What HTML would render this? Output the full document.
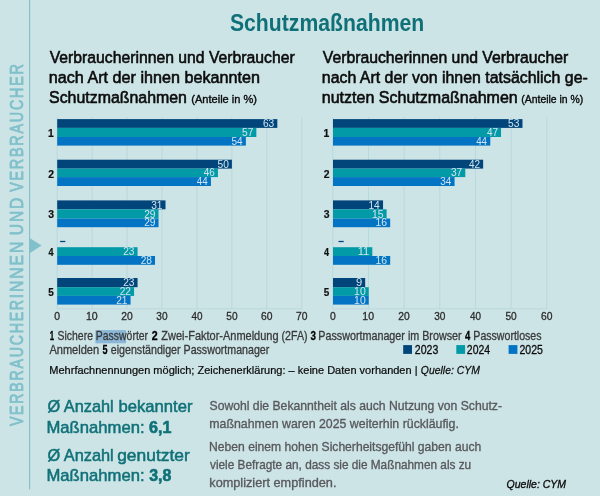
<!DOCTYPE html>
<html lang="de">
<head>
<meta charset="utf-8">
<title>Schutzmaßnahmen</title>
<style>
html,body{margin:0;padding:0}
body{width:600px;height:496px;overflow:hidden;background:#cde4e7}
svg{display:block;position:absolute;left:0;top:0;filter:blur(0.35px)}
text{font-family:'Liberation Sans', sans-serif;white-space:pre;stroke-linejoin:round}
</style>
</head>
<body>
<svg width="600" height="496" viewBox="0 0 600 496">
<rect x="0" y="0" width="600" height="496" fill="#cde4e7"/>
<rect x="29.05" y="0" width="1.1" height="489.4" fill="#80c0ca"/>
<polygon points="29.6,238 41.6,245.6 29.6,253.2" fill="#80c0ca"/>
<rect x="95.4" y="330.1" width="30.6" height="13.2" fill="#8ab7d6"/>
<rect x="56.65" y="117" width="1" height="191.90" fill="#b8d8dd"/>
<rect x="91.60" y="117" width="1" height="191.90" fill="#b8d8dd"/>
<rect x="126.55" y="117" width="1" height="191.90" fill="#b8d8dd"/>
<rect x="161.50" y="117" width="1" height="191.90" fill="#b8d8dd"/>
<rect x="196.45" y="117" width="1" height="191.90" fill="#b8d8dd"/>
<rect x="231.40" y="117" width="1" height="191.90" fill="#b8d8dd"/>
<rect x="266.35" y="117" width="1" height="191.90" fill="#b8d8dd"/>
<rect x="301.30" y="117" width="1" height="191.90" fill="#b8d8dd"/>
<rect x="56.65" y="308.40" width="245.65" height="1" fill="#b8d8dd"/>
<rect x="57.20" y="119.10" width="220.12" height="8.80" fill="#02457a"/>
<rect x="57.20" y="127.90" width="199.16" height="9.10" fill="#039aa7"/>
<rect x="57.20" y="137.00" width="188.68" height="8.60" fill="#0274c3"/>
<rect x="57.20" y="159.70" width="174.70" height="8.90" fill="#02457a"/>
<rect x="57.20" y="168.60" width="160.72" height="8.50" fill="#039aa7"/>
<rect x="57.20" y="177.10" width="153.74" height="8.90" fill="#0274c3"/>
<rect x="57.20" y="200.40" width="108.31" height="8.90" fill="#02457a"/>
<rect x="57.20" y="209.30" width="101.33" height="9.30" fill="#039aa7"/>
<rect x="57.20" y="218.60" width="101.33" height="8.60" fill="#0274c3"/>
<rect x="60.10" y="240.85" width="5.2" height="1.3" fill="#02457a"/>
<rect x="57.20" y="247.20" width="80.36" height="8.80" fill="#039aa7"/>
<rect x="57.20" y="256.00" width="97.83" height="8.80" fill="#0274c3"/>
<rect x="57.20" y="278.00" width="80.36" height="9.20" fill="#02457a"/>
<rect x="57.20" y="287.20" width="76.87" height="8.70" fill="#039aa7"/>
<rect x="57.20" y="295.90" width="73.37" height="8.70" fill="#0274c3"/>
<rect x="332.30" y="117" width="1" height="191.90" fill="#b8d8dd"/>
<rect x="367.97" y="117" width="1" height="191.90" fill="#b8d8dd"/>
<rect x="403.63" y="117" width="1" height="191.90" fill="#b8d8dd"/>
<rect x="439.30" y="117" width="1" height="191.90" fill="#b8d8dd"/>
<rect x="474.97" y="117" width="1" height="191.90" fill="#b8d8dd"/>
<rect x="510.63" y="117" width="1" height="191.90" fill="#b8d8dd"/>
<rect x="546.30" y="117" width="1" height="191.90" fill="#b8d8dd"/>
<rect x="332.30" y="308.40" width="215.00" height="1" fill="#b8d8dd"/>
<rect x="333.00" y="119.10" width="189.48" height="8.80" fill="#02457a"/>
<rect x="333.00" y="127.90" width="168.03" height="9.10" fill="#039aa7"/>
<rect x="333.00" y="137.00" width="157.30" height="8.60" fill="#0274c3"/>
<rect x="333.00" y="159.70" width="150.15" height="8.90" fill="#02457a"/>
<rect x="333.00" y="168.60" width="132.28" height="8.50" fill="#039aa7"/>
<rect x="333.00" y="177.10" width="121.55" height="8.90" fill="#0274c3"/>
<rect x="333.00" y="200.40" width="50.05" height="8.90" fill="#02457a"/>
<rect x="333.00" y="209.30" width="53.62" height="9.30" fill="#039aa7"/>
<rect x="333.00" y="218.60" width="57.20" height="8.60" fill="#0274c3"/>
<rect x="338.50" y="240.85" width="5.2" height="1.3" fill="#02457a"/>
<rect x="333.00" y="247.20" width="39.33" height="8.80" fill="#039aa7"/>
<rect x="333.00" y="256.00" width="57.20" height="8.80" fill="#0274c3"/>
<rect x="333.00" y="278.00" width="32.18" height="9.20" fill="#02457a"/>
<rect x="333.00" y="287.20" width="35.75" height="8.70" fill="#039aa7"/>
<rect x="333.00" y="295.90" width="35.75" height="8.70" fill="#0274c3"/>
<rect x="403.2" y="345.1" width="8.8" height="8.8" fill="#02457a"/>
<rect x="456.3" y="345.1" width="8.8" height="8.8" fill="#039aa7"/>
<rect x="508.6" y="345.1" width="8.8" height="8.8" fill="#0274c3"/>
<text transform="translate(229.92 30.80) scale(0.9022 1)" font-size="23.5" fill="#0f7177" font-weight="700">Schutzmaßnahmen</text>
<text transform="translate(49.73 63.00) scale(0.9264 1)" font-size="17" fill="#0c0c0c" stroke="#0c0c0c" stroke-width="0.6">Verbraucherinnen und Verbraucher</text>
<text transform="translate(48.79 83.00) scale(0.9512 1)" font-size="17" fill="#0c0c0c" stroke="#0c0c0c" stroke-width="0.6">nach Art der ihnen bekannten</text>
<text transform="translate(49.03 102.50) scale(0.9366 1)" font-size="17" fill="#0c0c0c" stroke="#0c0c0c" stroke-width="0.6">Schutzmaßnahmen</text>
<text transform="translate(191.27 102.50) scale(0.9630 1)" font-size="11.5" fill="#0c0c0c" stroke="#0c0c0c" stroke-width="0.4">(Anteile in %)</text>
<text transform="translate(322.73 63.00) scale(0.9283 1)" font-size="17" fill="#0c0c0c" stroke="#0c0c0c" stroke-width="0.6">Verbraucherinnen und Verbraucher</text>
<text transform="translate(321.80 83.00) scale(0.9356 1)" font-size="17" fill="#0c0c0c" stroke="#0c0c0c" stroke-width="0.6">nach Art der von ihnen tatsächlich ge-</text>
<text transform="translate(321.79 102.50) scale(0.9430 1)" font-size="17" fill="#0c0c0c" stroke="#0c0c0c" stroke-width="0.6">nutzten Schutzmaßnahmen</text>
<text transform="translate(521.30 102.50) scale(0.9074 1)" font-size="11.5" fill="#0c0c0c" stroke="#0c0c0c" stroke-width="0.4">(Anteile in %)</text>
<text transform="translate(49.68 340.00) scale(0.6400 1)" font-size="12.3" fill="#000" font-weight="700" stroke="#000" stroke-width="0.3">1</text>
<text transform="translate(57.56 340.00) scale(0.8780 1)" font-size="11.9" fill="#3a3a3a" stroke="#3a3a3a" stroke-width="0.3">Sichere Passwörter</text>
<text transform="translate(151.78 340.00) scale(0.8640 1)" font-size="12.3" fill="#000" font-weight="700" stroke="#000" stroke-width="0.3">2</text>
<text transform="translate(161.37 340.00) scale(0.9238 1)" font-size="11.9" fill="#3a3a3a" stroke="#3a3a3a" stroke-width="0.3">Zwei-Faktor-Anmeldung</text>
<text transform="translate(281.55 340.00) scale(0.8929 1)" font-size="11.9" fill="#3a3a3a" stroke="#3a3a3a" stroke-width="0.3">(2FA)</text>
<text transform="translate(310.40 340.00) scale(0.8000 1)" font-size="12.3" fill="#000" font-weight="700" stroke="#000" stroke-width="0.3">3</text>
<text transform="translate(318.32 340.00) scale(0.9040 1)" font-size="11.9" fill="#3a3a3a" stroke="#3a3a3a" stroke-width="0.3">Passwortmanager im Browser</text>
<text transform="translate(465.00 340.00) scale(0.7714 1)" font-size="12.3" fill="#000" font-weight="700" stroke="#000" stroke-width="0.3">4</text>
<text transform="translate(473.33 340.00) scale(0.8907 1)" font-size="11.9" fill="#3a3a3a" stroke="#3a3a3a" stroke-width="0.3">Passwortloses</text>
<text transform="translate(49.40 353.75) scale(0.9283 1)" font-size="11.9" fill="#3a3a3a" stroke="#3a3a3a" stroke-width="0.3">Anmelden</text>
<text transform="translate(102.42 353.75) scale(0.7385 1)" font-size="12.3" fill="#000" font-weight="700" stroke="#000" stroke-width="0.3">5</text>
<text transform="translate(110.78 353.75) scale(0.8950 1)" font-size="11.9" fill="#3a3a3a" stroke="#3a3a3a" stroke-width="0.3">eigenständiger Passwortmanager</text>
<text transform="translate(414.86 354.00) scale(0.8816 1)" font-size="12" fill="#0c0c0c" stroke="#0c0c0c" stroke-width="0.3">2023</text>
<text transform="translate(466.86 354.00) scale(0.8731 1)" font-size="12" fill="#0c0c0c" stroke="#0c0c0c" stroke-width="0.3">2024</text>
<text transform="translate(519.46 354.00) scale(0.8816 1)" font-size="12" fill="#0c0c0c" stroke="#0c0c0c" stroke-width="0.3">2025</text>
<text transform="translate(49.30 373.70) scale(0.9338 1)" font-size="11.8" fill="#0c0c0c" stroke="#0c0c0c" stroke-width="0.25">Mehrfachnennungen möglich; Zeichenerklärung: – keine Daten vorhanden |</text>
<text transform="translate(420.86 373.70) scale(0.8827 1)" font-size="11.8" fill="#0c0c0c" font-style="italic" stroke="#0c0c0c" stroke-width="0.25">Quelle: CYM</text>
<text transform="translate(47.45 412.00) scale(1.0031 1)" font-size="16.3" fill="#0f7177" stroke="#0f7177" stroke-width="0.5">Ø Anzahl</text>
<text transform="translate(118.43 412.00) scale(1.0216 1)" font-size="16.3" fill="#0f7177" stroke="#0f7177" stroke-width="0.5">bekannter</text>
<text transform="translate(46.48 432.50) scale(1.0213 1)" font-size="16.3" fill="#0f7177" stroke="#0f7177" stroke-width="0.5">Maßnahmen:</text>
<text transform="translate(149.00 432.50) scale(0.9888 1)" font-size="16.3" fill="#0f7177" font-weight="700" stroke="#0f7177" stroke-width="0.6">6,1</text>
<text transform="translate(47.45 461.25) scale(1.0031 1)" font-size="16.3" fill="#0f7177" stroke="#0f7177" stroke-width="0.5">Ø Anzahl</text>
<text transform="translate(117.17 461.25) scale(1.0677 1)" font-size="16.3" fill="#0f7177" stroke="#0f7177" stroke-width="0.5">genutzter</text>
<text transform="translate(46.48 481.25) scale(1.0213 1)" font-size="16.3" fill="#0f7177" stroke="#0f7177" stroke-width="0.5">Maßnahmen:</text>
<text transform="translate(149.25 481.25) scale(0.9778 1)" font-size="16.3" fill="#0f7177" font-weight="700" stroke="#0f7177" stroke-width="0.6">3,8</text>
<text transform="translate(209.54 410.00) scale(0.9240 1)" font-size="13.2" fill="#58595c" stroke="#58595c" stroke-width="0.35">Sowohl die Bekanntheit als auch Nutzung von Schutz-</text>
<text transform="translate(209.30 427.50) scale(0.9358 1)" font-size="13.2" fill="#58595c" stroke="#58595c" stroke-width="0.35">maßnahmen waren 2025 weiterhin rückläufig.</text>
<text transform="translate(209.08 450.50) scale(0.9194 1)" font-size="13.2" fill="#58595c" stroke="#58595c" stroke-width="0.35">Neben einem hohen Sicherheitsgefühl gaben auch</text>
<text transform="translate(210.00 468.60) scale(0.8952 1)" font-size="13.2" fill="#58595c" stroke="#58595c" stroke-width="0.35">viele Befragte an, dass sie die Maßnahmen als zu</text>
<text transform="translate(209.28 487.00) scale(0.9635 1)" font-size="13.2" fill="#58595c" stroke="#58595c" stroke-width="0.35">kompliziert empfinden.</text>
<text transform="translate(506.55 487.50) scale(0.8910 1)" font-size="11.8" fill="#0c0c0c" font-style="italic" stroke="#0c0c0c" stroke-width="0.35">Quelle: CYM</text>
<text transform="translate(23.30 426.30) rotate(-90) translate(0.20 0) scale(0.7814 1)" font-size="18.2" fill="#80c0ca" stroke="#80c0ca" stroke-width="0.8" letter-spacing="2.2">VERBRAUCHER</text>
<text transform="translate(23.30 426.30) rotate(-90) translate(128.12 0) scale(0.8635 1)" font-size="18.2" fill="#80c0ca" stroke="#80c0ca" stroke-width="0.8" letter-spacing="2.2">INNEN</text>
<text transform="translate(23.30 426.30) rotate(-90) translate(191.04 0) scale(0.8592 1)" font-size="18.2" fill="#80c0ca" stroke="#80c0ca" stroke-width="0.8" letter-spacing="2.2">UND</text>
<text transform="translate(23.30 426.30) rotate(-90) translate(234.50 0) scale(0.7907 1)" font-size="18.2" fill="#80c0ca" stroke="#80c0ca" stroke-width="0.8" letter-spacing="2.2">VERBRAUCHER</text>
<text transform="translate(54.31 319.90) scale(0.9455 1)" font-size="11" fill="#2c2c2c" stroke="#2c2c2c" stroke-width="0.3">0</text>
<text transform="translate(85.98 319.90) scale(0.9600 1)" font-size="11" fill="#2c2c2c" stroke="#2c2c2c" stroke-width="0.3">10</text>
<text transform="translate(121.18 319.90) scale(0.9391 1)" font-size="11" fill="#2c2c2c" stroke="#2c2c2c" stroke-width="0.3">20</text>
<text transform="translate(156.37 319.90) scale(0.9191 1)" font-size="11" fill="#2c2c2c" stroke="#2c2c2c" stroke-width="0.3">30</text>
<text transform="translate(191.55 319.90) scale(0.9000 1)" font-size="11" fill="#2c2c2c" stroke="#2c2c2c" stroke-width="0.3">40</text>
<text transform="translate(226.27 319.90) scale(0.9191 1)" font-size="11" fill="#2c2c2c" stroke="#2c2c2c" stroke-width="0.3">50</text>
<text transform="translate(260.98 319.90) scale(0.9391 1)" font-size="11" fill="#2c2c2c" stroke="#2c2c2c" stroke-width="0.3">60</text>
<text transform="translate(295.93 319.90) scale(0.9391 1)" font-size="11" fill="#2c2c2c" stroke="#2c2c2c" stroke-width="0.3">70</text>
<text transform="translate(262.95 127.15) scale(0.9455 1)" font-size="10.8" fill="#d2e5ef">63</text>
<text transform="translate(241.99 136.25) scale(0.9455 1)" font-size="10.8" fill="#d2e5ef">57</text>
<text transform="translate(231.51 144.85) scale(0.9244 1)" font-size="10.8" fill="#d2e5ef">54</text>
<text transform="translate(47.98 137.20) scale(1.0400 1)" font-size="10" fill="#111" font-weight="700" stroke="#111" stroke-width="0.2">1</text>
<text transform="translate(217.53 167.85) scale(0.9455 1)" font-size="10.8" fill="#d2e5ef">50</text>
<text transform="translate(203.79 176.35) scale(0.9244 1)" font-size="10.8" fill="#d2e5ef">46</text>
<text transform="translate(196.81 185.25) scale(0.9043 1)" font-size="10.8" fill="#d2e5ef">44</text>
<text transform="translate(48.24 177.70) scale(1.0400 1)" font-size="10" fill="#111" font-weight="700" stroke="#111" stroke-width="0.2">2</text>
<text transform="translate(151.14 208.55) scale(0.9455 1)" font-size="10.8" fill="#d2e5ef">31</text>
<text transform="translate(144.15 217.85) scale(0.9455 1)" font-size="10.8" fill="#d2e5ef">29</text>
<text transform="translate(144.15 226.45) scale(0.9455 1)" font-size="10.8" fill="#d2e5ef">29</text>
<text transform="translate(48.24 218.40) scale(1.0400 1)" font-size="10" fill="#111" font-weight="700" stroke="#111" stroke-width="0.2">3</text>
<text transform="translate(123.19 255.25) scale(0.9455 1)" font-size="10.8" fill="#d2e5ef">23</text>
<text transform="translate(140.66 264.05) scale(0.9455 1)" font-size="10.8" fill="#d2e5ef">28</text>
<text transform="translate(48.50 255.90) scale(0.9043 1)" font-size="10" fill="#111" font-weight="700" stroke="#111" stroke-width="0.2">4</text>
<text transform="translate(123.19 286.45) scale(0.9455 1)" font-size="10.8" fill="#d2e5ef">23</text>
<text transform="translate(119.70 295.15) scale(0.9455 1)" font-size="10.8" fill="#d2e5ef">22</text>
<text transform="translate(116.20 303.85) scale(0.9455 1)" font-size="10.8" fill="#d2e5ef">21</text>
<text transform="translate(48.25 295.50) scale(0.9905 1)" font-size="10" fill="#111" font-weight="700" stroke="#111" stroke-width="0.2">5</text>
<text transform="translate(329.96 319.90) scale(0.9455 1)" font-size="11" fill="#2c2c2c" stroke="#2c2c2c" stroke-width="0.3">0</text>
<text transform="translate(362.35 319.90) scale(0.9600 1)" font-size="11" fill="#2c2c2c" stroke="#2c2c2c" stroke-width="0.3">10</text>
<text transform="translate(398.26 319.90) scale(0.9391 1)" font-size="11" fill="#2c2c2c" stroke="#2c2c2c" stroke-width="0.3">20</text>
<text transform="translate(434.17 319.90) scale(0.9191 1)" font-size="11" fill="#2c2c2c" stroke="#2c2c2c" stroke-width="0.3">30</text>
<text transform="translate(470.07 319.90) scale(0.9000 1)" font-size="11" fill="#2c2c2c" stroke="#2c2c2c" stroke-width="0.3">40</text>
<text transform="translate(505.51 319.90) scale(0.9191 1)" font-size="11" fill="#2c2c2c" stroke="#2c2c2c" stroke-width="0.3">50</text>
<text transform="translate(540.93 319.90) scale(0.9391 1)" font-size="11" fill="#2c2c2c" stroke="#2c2c2c" stroke-width="0.3">60</text>
<text transform="translate(508.10 127.15) scale(0.9455 1)" font-size="10.8" fill="#d2e5ef">53</text>
<text transform="translate(486.89 136.25) scale(0.9244 1)" font-size="10.8" fill="#d2e5ef">47</text>
<text transform="translate(476.17 144.85) scale(0.9043 1)" font-size="10.8" fill="#d2e5ef">44</text>
<text transform="translate(323.38 137.20) scale(1.0400 1)" font-size="10" fill="#111" font-weight="700" stroke="#111" stroke-width="0.2">1</text>
<text transform="translate(469.02 167.85) scale(0.9244 1)" font-size="10.8" fill="#d2e5ef">42</text>
<text transform="translate(450.90 176.35) scale(0.9455 1)" font-size="10.8" fill="#d2e5ef">37</text>
<text transform="translate(440.19 185.25) scale(0.9244 1)" font-size="10.8" fill="#d2e5ef">34</text>
<text transform="translate(323.64 177.70) scale(1.0400 1)" font-size="10" fill="#111" font-weight="700" stroke="#111" stroke-width="0.2">2</text>
<text transform="translate(368.44 208.55) scale(0.9455 1)" font-size="10.8" fill="#d2e5ef">14</text>
<text transform="translate(372.00 217.85) scale(0.9674 1)" font-size="10.8" fill="#d2e5ef">15</text>
<text transform="translate(375.57 226.45) scale(0.9674 1)" font-size="10.8" fill="#d2e5ef">16</text>
<text transform="translate(323.64 218.40) scale(1.0400 1)" font-size="10" fill="#111" font-weight="700" stroke="#111" stroke-width="0.2">3</text>
<text transform="translate(357.65 255.25) scale(1.0400 1)" font-size="10.8" fill="#d2e5ef">11</text>
<text transform="translate(375.57 264.05) scale(0.9674 1)" font-size="10.8" fill="#d2e5ef">16</text>
<text transform="translate(323.90 255.90) scale(0.9043 1)" font-size="10" fill="#111" font-weight="700" stroke="#111" stroke-width="0.2">4</text>
<text transform="translate(355.96 286.45) scale(1.0400 1)" font-size="10.8" fill="#d2e5ef">9</text>
<text transform="translate(354.12 295.15) scale(0.9674 1)" font-size="10.8" fill="#d2e5ef">10</text>
<text transform="translate(354.12 303.85) scale(0.9674 1)" font-size="10.8" fill="#d2e5ef">10</text>
<text transform="translate(323.65 295.50) scale(0.9905 1)" font-size="10" fill="#111" font-weight="700" stroke="#111" stroke-width="0.2">5</text>
</svg>
</body>
</html>
